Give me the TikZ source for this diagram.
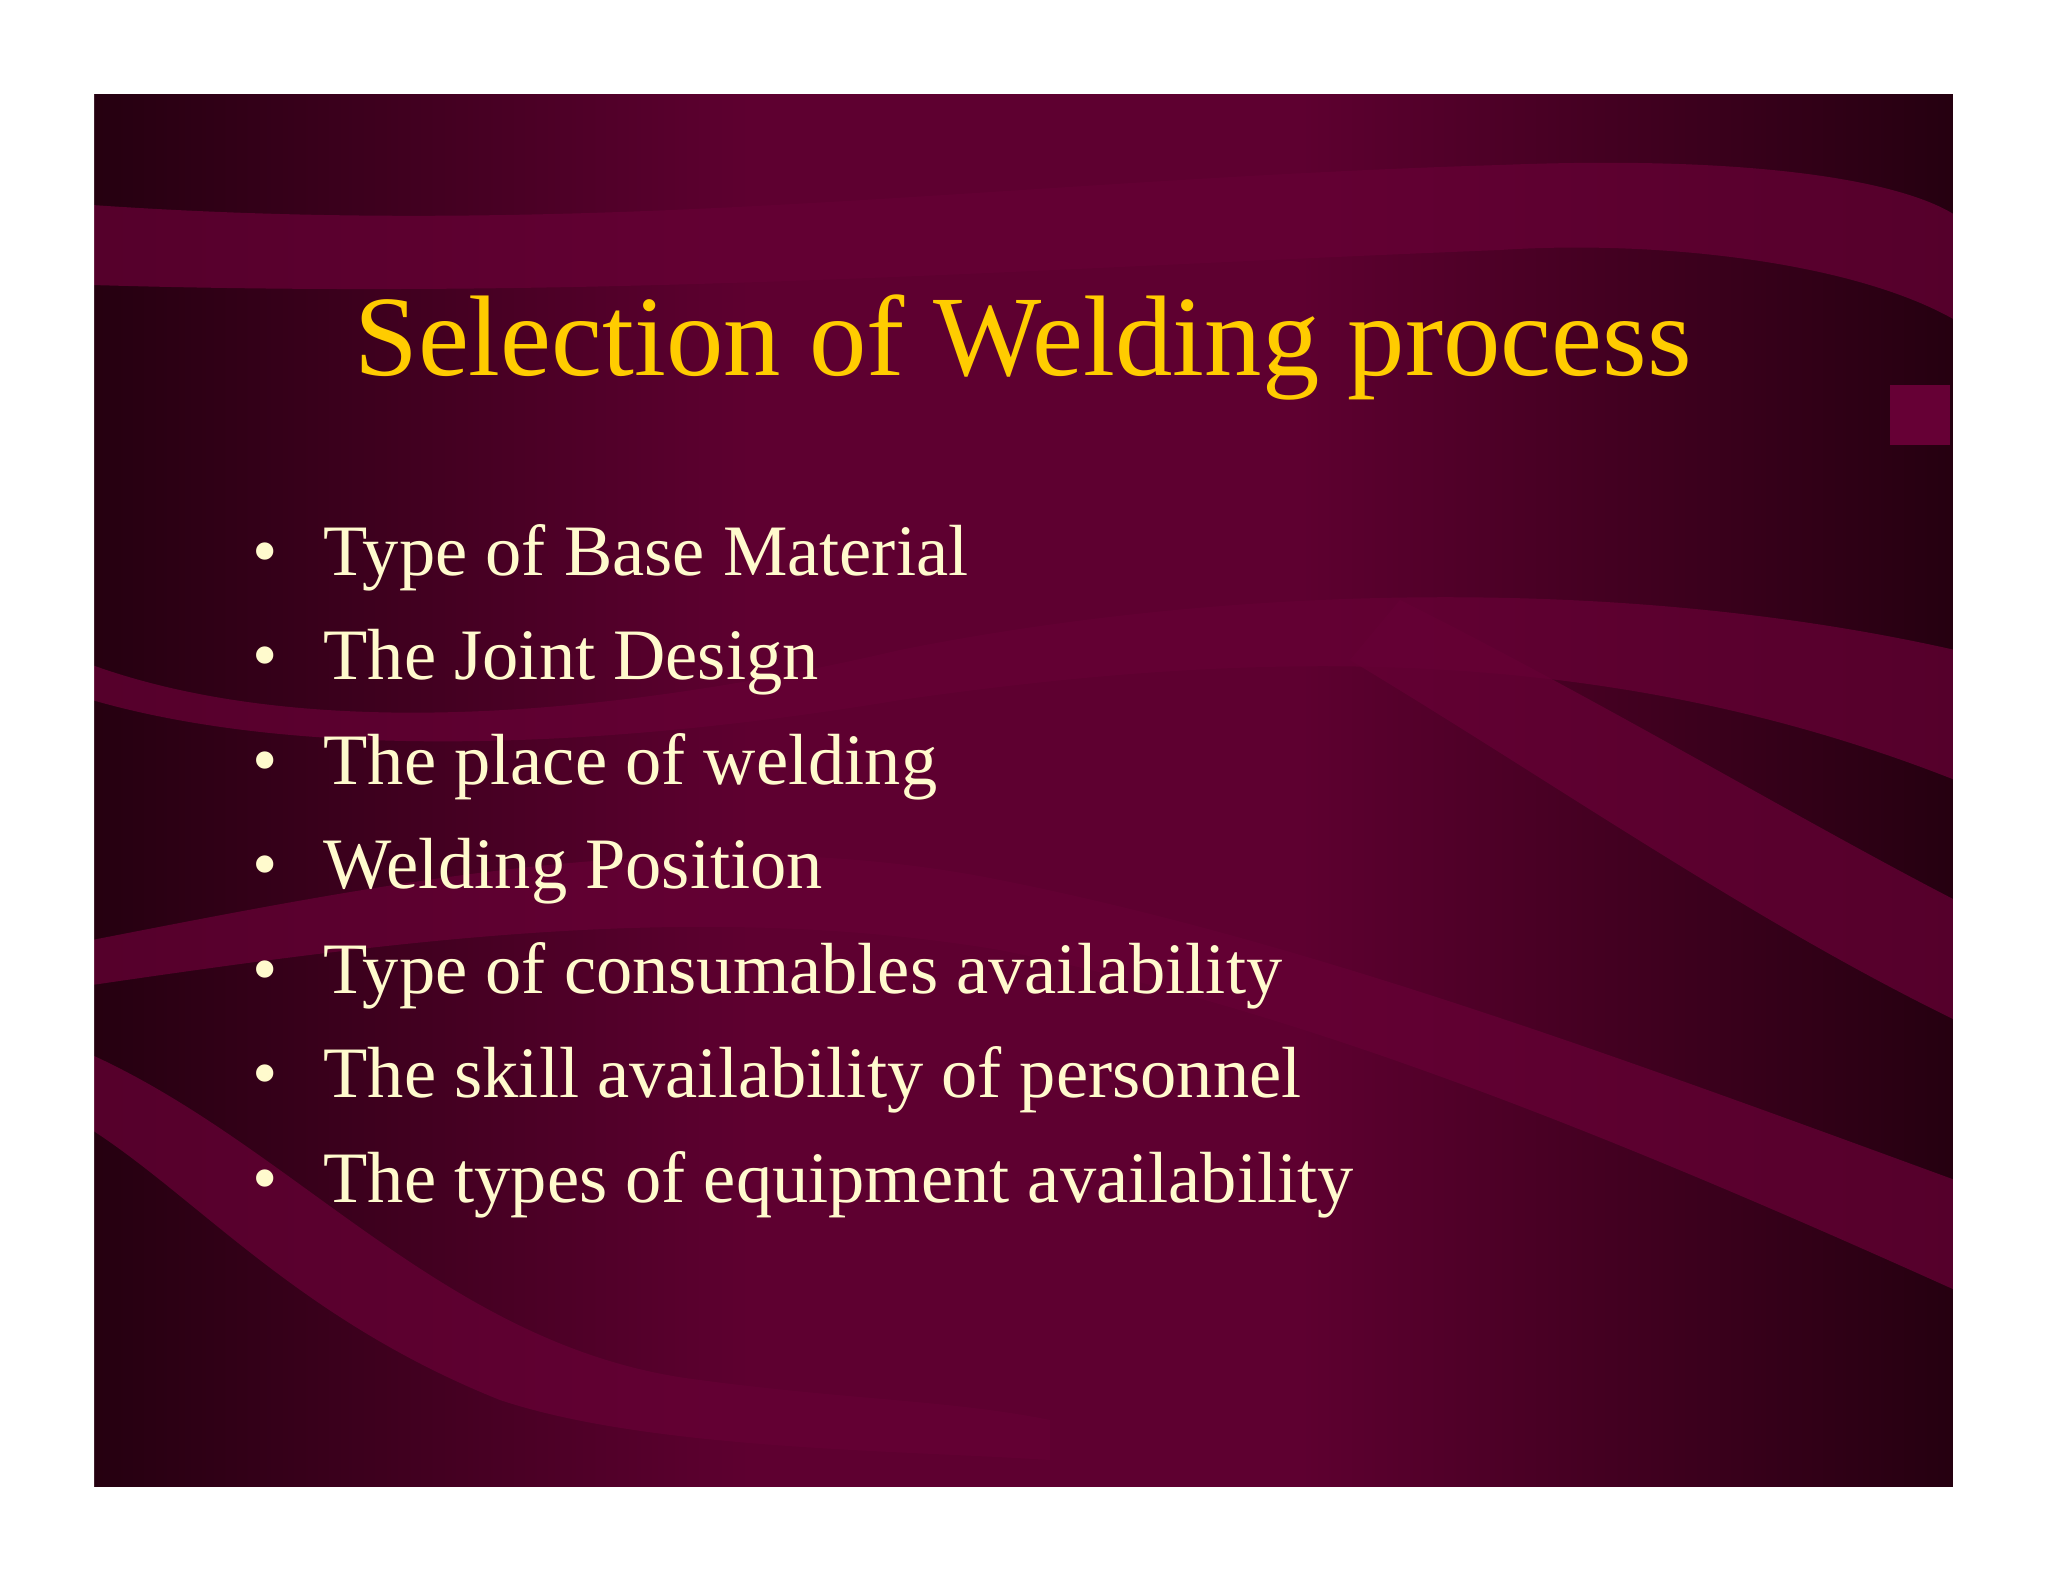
\documentclass[tikz,border=0pt]{standalone}
\usepackage{fontspec}
\setmainfont{Liberation Serif}
\begin{document}
\begin{tikzpicture}[x=0.01cm,y=-0.01cm,
  bul/.style={anchor=base west,text=bcol,font=\fontsize{20.6}{24}\selectfont,inner sep=0pt},
  dot/.style={anchor=base,text=bcol,font=\fontsize{20.6}{24}\selectfont,inner sep=0pt},
  rib/.style={fill=ribc,opacity=0.75}]
\definecolor{bcol}{HTML}{FFFACD}
\definecolor{tcol}{HTML}{FFCC00}
\definecolor{dk}{HTML}{250010}
\definecolor{md}{HTML}{5E0030}
\definecolor{ribc}{HTML}{660035}
\useasboundingbox (0,0) rectangle (2048,1582);
\fill[white] (0,0) rectangle (2048,1582);
\begin{scope}
\clip (92,92) rectangle (1955,1489);
\fill[md] (92,92) rectangle (1955,1489);
\shade[left color=dk,right color=md] (92,92) rectangle (750,1489);
\shade[left color=md,right color=dk] (1300,92) rectangle (1955,1489);
% ribbons
\fill[rib] (92,205) .. controls (600,240) and (1000,180) .. (1500,165) .. controls (1750,155) and (1900,180) .. (1955,215)
  -- (1955,320) .. controls (1850,260) and (1650,240) .. (1500,250) .. controls (1000,270) and (600,300) .. (92,285) -- cycle;
\fill[rib] (92,665) .. controls (300,740) and (600,720) .. (900,650) .. controls (1200,590) and (1600,570) .. (1955,650)
  -- (1955,780) .. controls (1600,640) and (1250,650) .. (900,700) .. controls (600,750) and (300,760) .. (92,700) -- cycle;
\fill[rib] (92,940) .. controls (400,880) and (700,820) .. (1000,880) .. controls (1300,940) and (1600,1050) .. (1955,1180)
  -- (1955,1290) .. controls (1600,1130) and (1300,1010) .. (1000,950) .. controls (700,900) and (400,940) .. (92,985) -- cycle;
\fill[rib] (92,1055) .. controls (300,1150) and (450,1350) .. (700,1380) .. controls (850,1400) and (950,1400) .. (1050,1420)
  -- (1050,1460) .. controls (900,1450) and (650,1450) .. (500,1400) .. controls (300,1320) and (200,1200) .. (92,1130) -- cycle;
\fill[rib] (1400,600) .. controls (1600,700) and (1800,820) .. (1955,900) -- (1955,1020) .. controls (1750,920) and (1550,780) .. (1350,660) -- cycle;
\fill[ribc] (1890,385) rectangle (1950,445);
\end{scope}
\fill[white,even odd rule] (0,0) rectangle (2048,1582) (94,94) rectangle (1953,1487);
\node[anchor=base,text=tcol,font=\fontsize{32.6}{38}\selectfont,inner sep=0pt] (title) at (1023,376) {Selection of Welding process};
\foreach \t [count=\i] in {Type of Base Material,The Joint Design,The place of welding,Welding Position,Type of consumables availability,The skill availability of personnel,The types of equipment availability}{
  \node[dot] (d\i) at (265,{575+104.5*(\i-1)}) {\textbullet};
  \node[bul] (b\i) at (323,{575+104.5*(\i-1)}) {\t};
}
\end{tikzpicture}
\end{document}
